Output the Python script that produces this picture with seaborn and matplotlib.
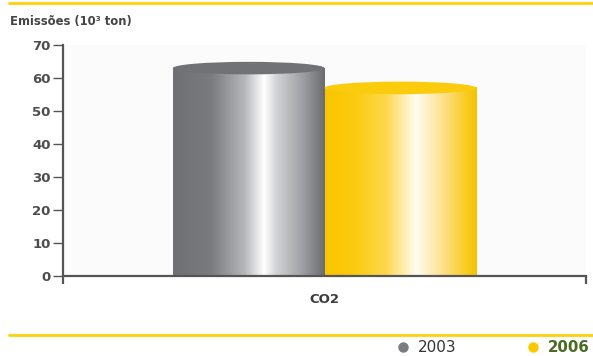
import numpy as np
import pandas as pd
import matplotlib
matplotlib.use("Agg")
import matplotlib.pyplot as plt
from matplotlib.colors import LinearSegmentedColormap
from matplotlib.patches import Ellipse
from matplotlib.lines import Line2D
import seaborn as sns

# ---- data ----
categories = ["CO2"]
years = ["2003", "2006"]
values_2003 = [63]
values_2006 = [57]
y_ticks = [0, 10, 20, 30, 40, 50, 60, 70]
title_text = "Emissões (10³ ton)"

df = pd.DataFrame({
    "cat": categories * 2,
    "year": [years[0]] * len(categories) + [years[1]] * len(categories),
    "val": values_2003 + values_2006,
})

sns.set_theme(style="white")
plt.rcParams["font.family"] = ["DejaVu Sans"]

W, H = 593, 356
fig = plt.figure(figsize=(W / 100, H / 100), dpi=100)
ax = fig.add_axes([63 / W, 1 - 276 / H, (586 - 63) / W, (276 - 45) / H])
ax.set_facecolor("#fbfbfb")

palette = {"2003": "#77787b", "2006": "#fcc800"}
sns.barplot(data=df, x="cat", y="val", hue="year", palette=palette,
            width=0.58, dodge=True, legend=False, ax=ax, saturation=1)

grads = {
    "2003": LinearSegmentedColormap.from_list("g", [
        (0.0, "#6f7073"), (0.25, "#7a7b7e"), (0.47, "#b5b6b9"),
        (0.60, "#ffffff"), (0.68, "#d2d3d5"), (0.85, "#a0a1a4"), (1.0, "#6b6c6f")]),
    "2006": LinearSegmentedColormap.from_list("y", [
        (0.0, "#f8c500"), (0.20, "#fccb10"), (0.40, "#fdd74a"),
        (0.60, "#fffdf2"), (0.78, "#fde08a"), (0.93, "#f9cc22"), (1.0, "#f3c300")]),
}
caps = {"2003": "#717275", "2006": "#fbcb0e"}

grad_row = np.linspace(0, 1, 256).reshape(1, -1)
for patch, yr in zip(ax.patches, [years[0]] * len(categories) + [years[1]] * len(categories)):
    x0, w, h = patch.get_x(), patch.get_width(), patch.get_height()
    patch.set_facecolor("none")
    patch.set_edgecolor("none")
    ax.imshow(grad_row, cmap=grads[yr], extent=[x0, x0 + w, 0, h],
              aspect="auto", origin="lower", zorder=2, interpolation="bilinear")
    ax.add_patch(Ellipse((x0 + w / 2, h), w, 3.8, facecolor=caps[yr],
                         edgecolor="none", zorder=3))

ax.set_xlim(-0.5, 0.5)
ax.set_ylim(0, 70)
ax.set_yticks(y_ticks)
ax.set_yticklabels([str(t) for t in y_ticks])
ax.set_xticks([0])
ax.set_xticklabels(categories)
ax.set_xticks([-0.5, 0.5], minor=True)
ax.set_xlabel("")
ax.set_ylabel("")

tick_col = "#555555"
for s in ["top", "right"]:
    ax.spines[s].set_visible(False)
for s in ["left", "bottom"]:
    ax.spines[s].set_color(tick_col)
    ax.spines[s].set_linewidth(1.6)
    ax.spines[s].set_zorder(5)

ax.tick_params(axis="y", which="major", direction="out", length=7, width=1,
               color=tick_col, pad=2, labelsize=9.5, labelcolor="#4d4d4f", left=True)
ax.tick_params(axis="x", which="major", length=0, pad=12, labelsize=9.5,
               labelcolor="#3d3d3f")
ax.tick_params(axis="x", which="minor", direction="out", length=6, width=1.6,
               color=tick_col, bottom=True)
for lab in ax.get_yticklabels() + ax.get_xticklabels():
    lab.set_fontweight("bold")

# title
fig.text(10 / W, 1 - 22 / H, title_text, fontsize=8.4, fontweight="bold",
         color="#444446", ha="left", va="center")

# yellow rules
for yy in [3, 335]:
    fig.add_artist(Line2D([9 / W, 1.0], [1 - yy / H] * 2, transform=fig.transFigure,
                          color="#fcd20a", lw=2))

# legend
leg_items = [(403, years[0], "#7b7c7f", "#333333", "normal", 11),
             (533, years[1], "#fcc800", "#4b6b22", "bold", 10.8)]
for xd, lab, dc, tc, fw, fs in leg_items:
    fig.add_artist(Line2D([xd / W], [1 - 347 / H], transform=fig.transFigure,
                          marker="o", markersize=6.5, color=dc, linestyle="none"))
    fig.text((xd + 15) / W, 1 - 347 / H, lab, fontsize=fs, color=tc,
             fontweight=fw, ha="left", va="center")

fig.savefig("out.png", dpi=100)
